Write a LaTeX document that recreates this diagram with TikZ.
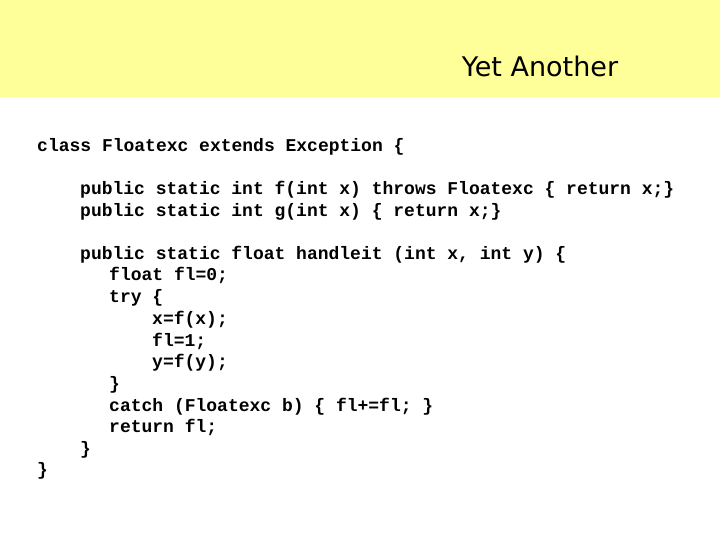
\documentclass[tikz,border=0pt]{standalone}
\usepackage{fontspec}
\newfontfamily\titlefont{DejaVu Sans}
\newfontfamily\codefont{Liberation Mono}
\definecolor{band}{HTML}{FFFF99}
\begin{document}
\begin{tikzpicture}[x=1pt,y=-1pt,
  code/.style={anchor=base west,inner sep=0pt,font=\codefont\bfseries\fontsize{18}{18}\selectfont}]
\useasboundingbox (0,0) rectangle (720,540);
\fill[white] (0,0) rectangle (720,540);
\fill[band] (0,0) rectangle (720,97);
\node[anchor=base,inner sep=0pt,font=\titlefont\fontsize{27}{27}\selectfont] (title) at (540,77) {Yet Another};
\node[code] (l1) at (37,152) {class Floatexc extends Exception \{};
\node[code] (l2) at (80,195) {public static int f(int x) throws Floatexc \{ return x;\}};
\node[code] (l3) at (80,216) {public static int g(int x) \{ return x;\}};
\node[code] (l4) at (80,259) {public static float handleit (int x, int y) \{};
\node[code] (l5) at (109,280) {float fl=0;};
\node[code] (l6) at (109,302) {try \{};
\node[code] (l7) at (152,324) {x=f(x);};
\node[code] (l8) at (152,346) {fl=1;};
\node[code] (l9) at (152,367) {y=f(y);};
\node[code] (l10) at (109,389) {\}};
\node[code] (l11) at (109,411) {catch (Floatexc b) \{ fl+=fl; \}};
\node[code] (l12) at (109,432) {return fl;};
\node[code] (l13) at (80,454) {\}};
\node[code] (l14) at (37,475) {\}};
\end{tikzpicture}
\end{document}
